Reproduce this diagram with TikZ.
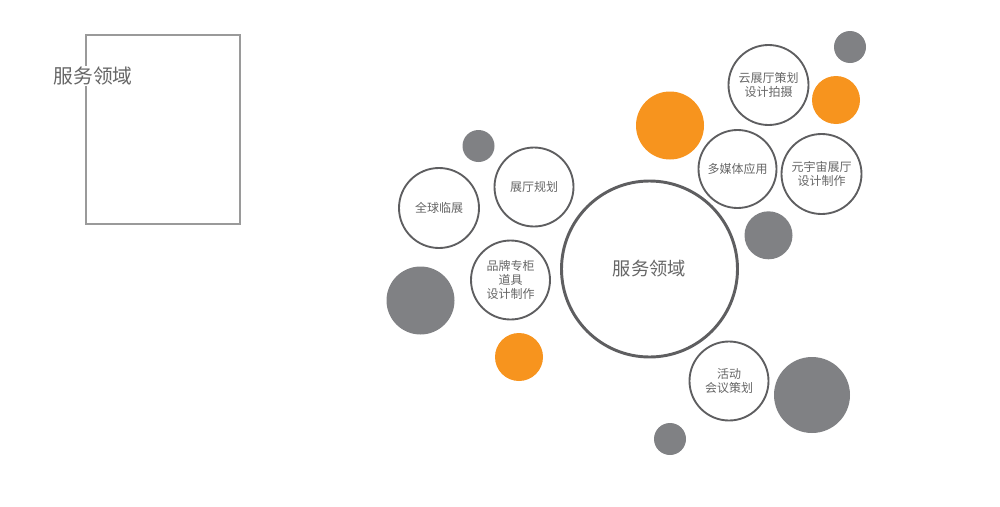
\documentclass[tikz,border=0pt]{standalone}
\usepackage{fontspec}
\setmainfont{Noto Sans CJK SC}
\definecolor{ringgray}{HTML}{5E5E60}
\definecolor{txtgray}{HTML}{666666}
\definecolor{dotgray}{HTML}{808184}
\definecolor{dotorange}{HTML}{F7941E}
\definecolor{boxgray}{HTML}{9A9A9A}
\begin{document}
\begin{tikzpicture}[x=0.75pt,y=-0.75pt,
  bub/.style={circle, draw=ringgray, line width=1.4pt, fill=white, inner sep=0pt,
    minimum size=#1*1.5pt, align=center, text=txtgray,
    font=\fontsize{9pt}{10.5pt}\selectfont},
  gdot/.style={circle, fill=dotgray, draw=none, inner sep=0pt, minimum size=#1*1.5pt},
  odot/.style={circle, fill=dotorange, draw=none, inner sep=0pt, minimum size=#1*1.5pt},
  mainbub/.style={circle, draw=ringgray, line width=2.2pt, fill=white, inner sep=0pt,
    minimum size=#1*1.5pt, text=txtgray, font=\fontsize{13.7pt}{16pt}\selectfont},
  boxline/.style={draw=boxgray, line width=0.8pt}
]
\useasboundingbox (0,0) rectangle (1000,507);
% left frame and title
\coordinate (boxA) at (86,35);
\coordinate (boxB) at (240,224);
\draw[boxline] (boxA) rectangle (boxB);
\node[fill=white, inner sep=1pt, text=txtgray, font=\fontsize{14.8pt}{17pt}\selectfont] (title) at (93,76) {服务领域};
% main circle
\node[mainbub=88] (main) at (649.5,269) {服务领域};
% white bubbles
\node[bub=40] (quanqiu) at (439,208) {全球临展};
\node[bub=39.5] (zhanting) at (534,187) {展厅规划};
\node[bub=39.5] (pinpai) at (510.5,280) {品牌专柜\\道具\\设计制作};
\node[bub=40] (yun) at (768.5,85) {云展厅策划\\设计拍摄};
\node[bub=39] (duomeiti) at (737.5,169) {多媒体应用};
\node[bub=40] (yuanyuzhou) at (821.5,174) {元宇宙展厅\\设计制作};
\node[bub=39.5] (huodong) at (729,381) {活动\\会议策划};
% gray dots
\node[gdot=16] (g1) at (478.5,146) {};
\node[gdot=34] (g2) at (420.5,300.5) {};
\node[gdot=16] (g3) at (850,47) {};
\node[gdot=24] (g4) at (768.5,235.3) {};
\node[gdot=38] (g5) at (812,395) {};
\node[gdot=16] (g6) at (670,439) {};
% orange dots
\node[odot=34] (o1) at (670,125.5) {};
\node[odot=24] (o2) at (836,100) {};
\node[odot=24] (o3) at (519,357) {};
\end{tikzpicture}
\end{document}
